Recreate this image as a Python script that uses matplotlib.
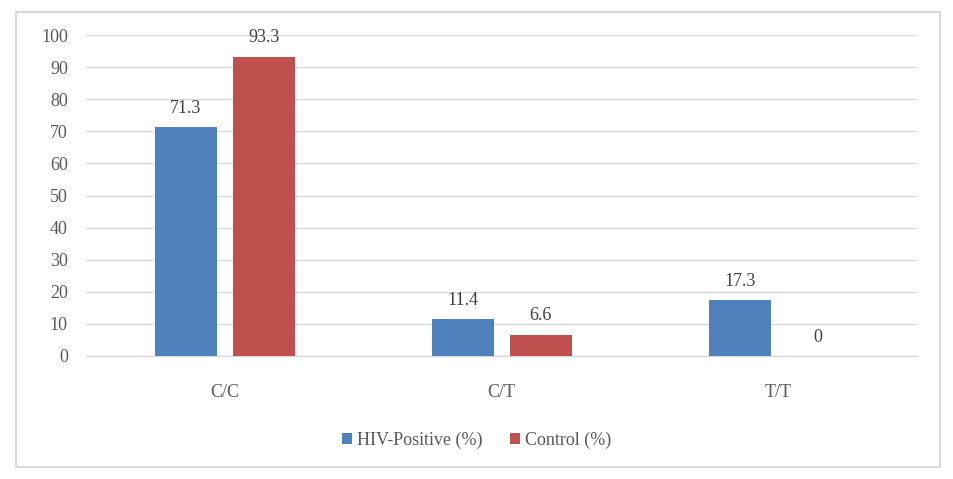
import matplotlib
matplotlib.use("Agg")
import matplotlib.pyplot as plt
from matplotlib.patches import Rectangle
import numpy as np

categories = ["C/C", "C/T", "T/T"]
hiv_positive = [71.3, 11.4, 17.3]
control = [93.3, 6.6, 0]
series_names = ["HIV-Positive (%)", "Control (%)"]

plt.rcParams['font.family'] = ['Liberation Serif', 'DejaVu Serif']

fig = plt.figure(figsize=(9.54, 4.79), dpi=100)
ax = fig.add_axes([0.0901, 0.2568, 0.871, 0.6701])

x = np.arange(len(categories))
w = 0.224
b1 = ax.bar(x - 0.139, hiv_positive, w, color='#4f81bd', label=series_names[0], zorder=3)
b2 = ax.bar(x + 0.1426, control, w, color='#c0504d', label=series_names[1], zorder=3)

for bars, vals in ((b1, hiv_positive), (b2, control)):
    for bar, v in zip(bars, vals):
        ax.annotate(f"{v:g}", (bar.get_x() + bar.get_width() / 2, v),
                    xytext=(0, 7.5), textcoords='offset points',
                    ha='center', va='bottom', fontsize=13, color='#404040')

ax.set_xlim(-0.5, 2.5)
ax.set_ylim(0, 100)
ax.set_yticks(range(0, 101, 10))
ax.set_xticks(x)
ax.set_xticklabels(categories)
ax.tick_params(axis='both', length=0, labelsize=13, colors='#595959')
ax.tick_params(axis='y', pad=13)
ax.tick_params(axis='x', pad=20)
ax.yaxis.grid(True, color='#d9d9d9', linewidth=1)
ax.axhline(0, color='#d9d9d9', linewidth=1, clip_on=False, zorder=2)
for s in ax.spines.values():
    s.set_visible(False)

ax.legend(loc='upper center', bbox_to_anchor=(0.47, -0.185), ncol=2, frameon=False,
          fontsize=13, handlelength=0.55, handleheight=0.55, handletextpad=0.3,
          columnspacing=1.5, labelcolor='#595959')

# outer chart border
fig.patches.append(Rectangle((16 / 954, 1 - 467 / 479), (940 - 16) / 954, (467 - 12) / 479,
                             transform=fig.transFigure, fill=False,
                             edgecolor='#d9d9d9', linewidth=1.5))

plt.savefig('out.png', dpi=100)
plt.close(fig)
